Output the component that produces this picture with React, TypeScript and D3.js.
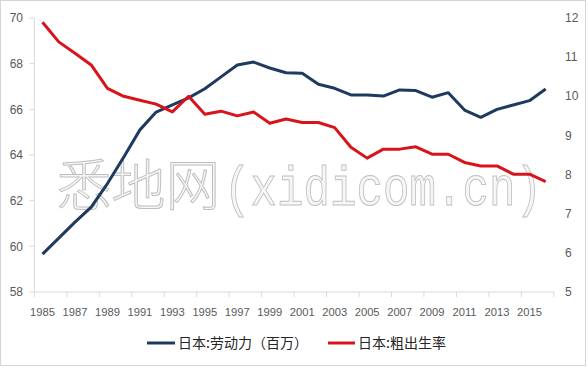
import React from "react";
import * as d3 from "d3";

const years = d3.range(1985, 2017).map(String);
const laborForce = [59.66, 60.36, 61.06, 61.72, 62.75, 63.9, 65.1, 65.88, 66.19, 66.5, 66.9, 67.42, 67.94, 68.07, 67.81, 67.6, 67.58, 67.1, 66.92, 66.63, 66.63, 66.58, 66.85, 66.82, 66.53, 66.73, 65.97, 65.65, 66.0, 66.19, 66.38, 66.89];
const birthRate = [11.89, 11.39, 11.1, 10.8, 10.2, 10.0, 9.9, 9.8, 9.6, 10.0, 9.54, 9.62, 9.5, 9.6, 9.31, 9.42, 9.33, 9.33, 9.2, 8.7, 8.42, 8.65, 8.65, 8.71, 8.52, 8.52, 8.31, 8.22, 8.22, 8.01, 8.01, 7.82];
const leftTicks = [58, 60, 62, 64, 66, 68, 70];
const rightTicks = [5, 6, 7, 8, 9, 10, 11, 12];
const seriesNames = ["日本:劳动力（百万）", "日本:粗出生率"];
const colors = ["#1f3a60", "#d7141c"];

export default function App() {
  const W = 588, H = 368;
  const top = 18, bottom = 292, left = 34.4, right = 553.8;
  const x = d3.scaleBand<string>().domain(years).range([left, right]).padding(0);
  const yL = d3.scaleLinear().domain([58, 70]).range([bottom, top]);
  const yR = d3.scaleLinear().domain([5, 12]).range([bottom, top]);
  const cx = (d: string) => (x(d) as number) + x.bandwidth() / 2;
  const lineL = d3.line<number>().x((_, i) => cx(years[i])).y((v) => yL(v));
  const lineR = d3.line<number>().x((_, i) => cx(years[i])).y((v) => yR(v));
  const font = "'Liberation Sans', Arial, sans-serif";
  const boundaries = d3.range(0, years.length + 1, 2).map((i) => left + i * x.step());

  return (
    <svg width={W} height={H} style={{ position: "absolute", left: 0, top: 0 }} fontFamily={font}>
      <rect x={0} y={0} width={W} height={H} fill="#fff" />
      <rect x={0.5} y={0.5} width={585} height={365} fill="none" stroke="#d4d4d4" />
      {/* watermark */}
      <g fill="#f6f6f6" stroke="#bfbfbf" strokeWidth={1}>
        <text x={57} y={205} fontSize={55} fontFamily="'Noto Sans CJK SC', sans-serif" fontWeight={300} textLength={163} lengthAdjust="spacingAndGlyphs">悉地网</text>
        <text x={224} y={205} fontSize={55} fontFamily="'Liberation Mono', monospace" textLength={318} lengthAdjust="spacingAndGlyphs">(xidicom.cn)</text>
      </g>
      {/* axes */}
      <line x1={left} x2={left} y1={top} y2={bottom} stroke="#d9d9d9" />
      <line x1={left} x2={right} y1={bottom} y2={bottom} stroke="#d9d9d9" />
      {leftTicks.map((t) => (
        <g key={"l" + t}>
          <line x1={left - 5} x2={left} y1={yL(t)} y2={yL(t)} stroke="#d9d9d9" />
          <text x={23} y={yL(t)} dy="0.35em" textAnchor="end" fontSize={12} fill="#595959">{t}</text>
        </g>
      ))}
      {rightTicks.map((t) => (
        <text key={"r" + t} x={565} y={yR(t)} dy="0.35em" fontSize={12} fill="#595959">{t}</text>
      ))}
      {boundaries.map((b, i) => (
        <line key={"b" + i} x1={b} x2={b} y1={bottom} y2={bottom + 5} stroke="#d9d9d9" />
      ))}
      {years.map((yr, i) => i % 2 === 0 ? (
        <text key={yr} x={cx(yr)} y={316} textAnchor="middle" fontSize={11.2} fill="#595959">{yr}</text>
      ) : null)}
      {/* lines */}
      <path d={lineL(laborForce) as string} fill="none" stroke={colors[0]} strokeWidth={3} strokeLinejoin="round" />
      <path d={lineR(birthRate) as string} fill="none" stroke={colors[1]} strokeWidth={3} strokeLinejoin="round" />
      {/* legend */}
      <line x1={147} x2={175} y1={343} y2={343} stroke={colors[0]} strokeWidth={3} />
      <text x={178} y={348} fontSize={14} fill="#262626" fontFamily="'Noto Sans CJK SC', sans-serif">{seriesNames[0]}</text>
      <line x1={328} x2={355} y1={343} y2={343} stroke={colors[1]} strokeWidth={3} />
      <text x={358} y={348} fontSize={14} fill="#262626" fontFamily="'Noto Sans CJK SC', sans-serif">{seriesNames[1]}</text>
    </svg>
  );
}
